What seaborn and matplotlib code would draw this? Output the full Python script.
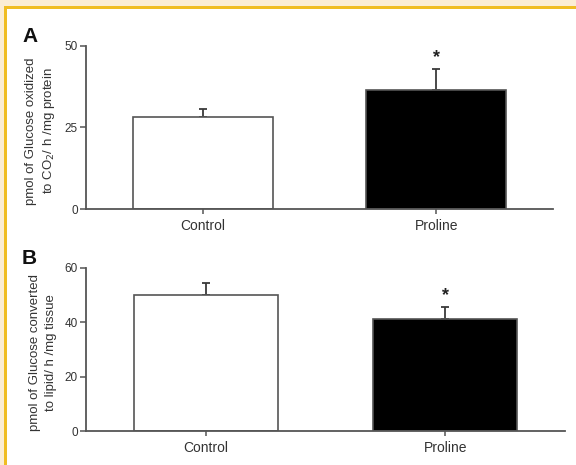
import matplotlib
matplotlib.use("Agg")
import matplotlib.pyplot as plt
import seaborn as sns
import pandas as pd
from matplotlib.patches import Rectangle

# ---- data ----
categories = ["Control", "Proline"]
oxidized_means = [28.2, 36.5]
oxidized_sem = [2.5, 6.4]
lipid_means = [50.0, 41.1]
lipid_sem = [4.4, 4.4]
a_ticks = [0, 25, 50]
b_ticks = [0, 20, 40, 60]
significant = ["", "*"]

sns.set_theme(style="ticks")
plt.rcParams["font.family"] = ["Liberation Sans", "DejaVu Sans"]

W, H = 576, 465
fig = plt.figure(figsize=(W / 100, H / 100), dpi=100)
fig.patch.set_facecolor("#FBEDD3")
# white panel with yellow frame (top/left visible)
for rect, col in [(((7 / W, 0), 1, (H - 9) / H), "white"),
                  (((4 / W, 0), 3 / W, (H - 6) / H), "#F0BD22"),
                  (((4 / W, (H - 9) / H), 1, 3 / H), "#F0BD22")]:
    xy, w, h = rect
    fig.patches.append(Rectangle(xy, w, h, transform=fig.transFigure,
                                 facecolor=col, edgecolor="none", zorder=-10))

def px_axes(left, right, top, bottom):
    return fig.add_axes([left / W, (H - bottom) / H, (right - left) / W, (bottom - top) / H])

axA = px_axes(86, 553, 46, 209)
axB = px_axes(86, 565, 268, 431)

spine_col = "#555555"
text_col = "#333333"

def draw(ax, means, sems, ticks, ylabel, letter):
    df = pd.DataFrame({"group": categories, "value": means})
    sns.barplot(data=df, x="group", y="value", hue="group",
                palette=["white", "black"], edgecolor=spine_col, linewidth=1.2,
                width=0.6, errorbar=None, legend=False, ax=ax, zorder=2)
    xs = list(range(len(categories)))
    ax.errorbar(xs, means, yerr=[[0] * len(sems), sems], fmt="none",
                ecolor="#3a3a3a", elinewidth=1.3, capsize=3, capthick=1.3, zorder=1)
    for x, m, s, sig in zip(xs, means, sems, significant):
        if sig:
            ax.annotate(sig, xy=(x, m + s), xytext=(0, 5), textcoords="offset points",
                        ha="center", va="baseline", fontsize=13, fontweight="bold",
                        color="#222222")
    ax.set_xlim(-0.5, 1.5)
    ax.set_ylim(ticks[0], ticks[-1])
    ax.set_yticks(ticks)
    ax.set_yticklabels([str(t) for t in ticks])
    ax.set_xlabel("")
    ax.set_ylabel(ylabel, fontsize=9.5, color=text_col, linespacing=1.35)
    ax.yaxis.set_label_coords(-0.063 * 467 / (ax.get_position().width * W), 0.48)
    sns.despine(ax=ax)
    for sp in ("left", "bottom"):
        ax.spines[sp].set_color(spine_col)
        ax.spines[sp].set_linewidth(1.3)
    ax.tick_params(axis="y", direction="out", length=4, width=1.1, color=spine_col,
                   labelsize=8.5, labelcolor=text_col, pad=2)
    ax.tick_params(axis="x", direction="out", length=3.5, width=1.1, color=spine_col,
                   labelsize=10, labelcolor=text_col, pad=4)
    ax.patch.set_alpha(0)
    ax.text(-0.137 * 467 / (ax.get_position().width * W), 1.0, letter,
            transform=ax.transAxes, fontsize=15, fontweight="bold",
            color="#111111", ha="left", va="bottom")

draw(axA, oxidized_means, oxidized_sem, a_ticks,
     "pmol of Glucose oxidized\nto CO$_2$/ h /mg protein", "A")
draw(axB, lipid_means, lipid_sem, b_ticks,
     "pmol of Glucose converted\nto lipid/ h /mg tissue", "B")

fig.savefig("out.png", dpi=100, facecolor=fig.get_facecolor())
